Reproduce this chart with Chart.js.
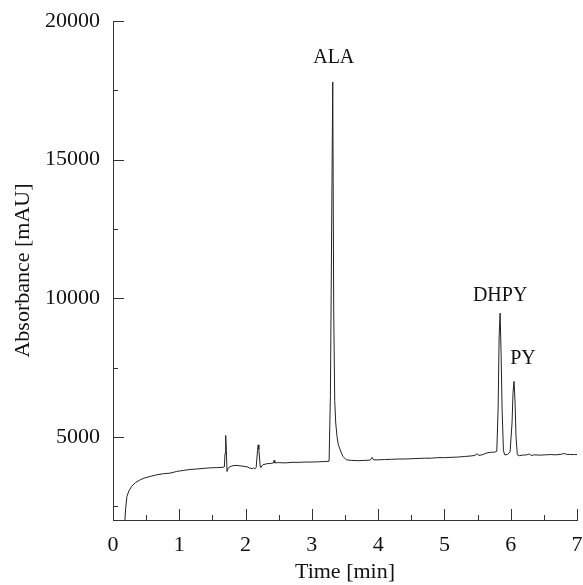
<!DOCTYPE html>
<html lang="en">
<head>
    <meta charset="UTF-8">
    <title>Chromatogram</title>
    <script src="https://cdn.jsdelivr.net/npm/chart.js"></script>
    <style>
        html, body { margin: 0; padding: 0; background: #fff; }
        #chart { display: block; }
    </style>
</head>
<body>
    <canvas id="chart" width="583" height="585"></canvas>

    <script>
        // Trace (time in min, absorbance in mAU)
        const times = [
            0.18, 0.19, 0.21, 0.24, 0.28, 0.34, 0.41, 0.48, 0.56, 0.66, 0.76, 0.86, 0.96,
            1.06, 1.16, 1.26, 1.36, 1.46, 1.56, 1.66, 1.68, 1.69, 1.70, 1.71, 1.72, 1.74,
            1.78, 1.84, 1.90, 1.96, 2.02, 2.06, 2.10, 2.12, 2.14, 2.16, 2.18, 2.19, 2.20,
            2.22, 2.23, 2.26, 2.32, 2.38, 2.42, 2.43, 2.44, 2.50, 2.60, 2.70, 2.80, 2.90,
            3.00, 3.10, 3.20, 3.26, 3.28, 3.30, 3.315, 3.33, 3.345, 3.36, 3.38, 3.40, 3.44,
            3.47, 3.52, 3.60, 3.70, 3.80, 3.88, 3.91, 3.93, 4.00, 4.10, 4.20, 4.30, 4.40,
            4.50, 4.60, 4.70, 4.80, 4.90, 5.00, 5.10, 5.20, 5.30, 5.40, 5.46, 5.49, 5.52,
            5.58, 5.64, 5.70, 5.76, 5.79, 5.81, 5.825, 5.84, 5.855, 5.87, 5.89, 5.91, 5.95,
            5.99, 6.02, 6.035, 6.05, 6.065, 6.08, 6.10, 6.13, 6.18, 6.24, 6.28, 6.31, 6.36,
            6.44, 6.52, 6.60, 6.68, 6.76, 6.80, 6.84, 6.90, 6.96, 7.00
        ];
        const absorbance = [
            2000, 2400, 2850, 3050, 3210, 3350, 3450, 3520, 3570, 3630, 3670, 3690, 3750,
            3790, 3820, 3840, 3860, 3880, 3890, 3900, 3920, 4400, 5050, 4500, 3750, 3880,
            3940, 3970, 3960, 3940, 3920, 3880, 3850, 3880, 3840, 3900, 4500, 4710, 4550,
            3950, 3900, 3990, 4030, 4040, 4060, 4150, 4060, 4070, 4060, 4080, 4080, 4090,
            4090, 4100, 4110, 4120, 6500, 13000, 17800, 9500, 6300, 5500, 5000, 4710, 4450,
            4290, 4170, 4150, 4140, 4150, 4160, 4260, 4170, 4170, 4180, 4190, 4200, 4200,
            4210, 4220, 4230, 4230, 4250, 4250, 4260, 4270, 4290, 4310, 4330, 4390, 4330,
            4360, 4420, 4440, 4450, 4480, 6000, 8600, 9460, 8000, 6000, 4500, 4350, 4360,
            4450, 5500, 6600, 7000, 6300, 5000, 4350, 4320, 4340, 4350, 4380, 4330, 4350,
            4340, 4350, 4360, 4350, 4370, 4400, 4370, 4360, 4360, 4360
        ];

        // Peak names and the time of each apex
        const peakNames = ['ALA', 'DHPY', 'PY'];
        const peakTimes = [3.315, 5.84, 6.05];

        // Axis ticks
        const xMajorTicks = [0, 1, 2, 3, 4, 5, 6, 7];
        const xMinorTicks = [0.5, 1.5, 2.5, 3.5, 4.5, 5.5, 6.5];
        const yMajorTicks = [5000, 10000, 15000, 20000];
        const yMinorTicks = [2500, 7500, 12500, 17500];

        const serif = '"Liberation Serif", "DejaVu Serif", serif';
        const ink = '#111';

        // Label offsets from each apex, in pixels
        const labelOffsets = { ALA: [1, -19], DHPY: [0, -12], PY: [9, -17] };

        const inwardTicks = {
            id: 'inwardTicks',
            afterDraw(chart) {
                const { ctx, chartArea: a, scales: { x, y } } = chart;
                ctx.save();
                ctx.strokeStyle = '#333';
                ctx.lineWidth = 1;
                ctx.beginPath();
                xMajorTicks.forEach(v => { const px = Math.round(x.getPixelForValue(v)) + 0.5; ctx.moveTo(px, a.bottom); ctx.lineTo(px, a.bottom - 11); });
                xMinorTicks.forEach(v => { const px = Math.round(x.getPixelForValue(v)) + 0.5; ctx.moveTo(px, a.bottom); ctx.lineTo(px, a.bottom - 5); });
                yMajorTicks.forEach(v => { const py = Math.round(y.getPixelForValue(v)) + 0.5; ctx.moveTo(a.left, py); ctx.lineTo(a.left + 11, py); });
                yMinorTicks.forEach(v => { const py = Math.round(y.getPixelForValue(v)) + 0.5; ctx.moveTo(a.left, py); ctx.lineTo(a.left + 5, py); });
                ctx.stroke();

                // peak names above their apex
                ctx.fillStyle = ink;
                ctx.font = '20px ' + serif;
                ctx.textAlign = 'center';
                ctx.textBaseline = 'alphabetic';
                peakNames.forEach((name, i) => {
                    const idx = times.indexOf(peakTimes[i]);
                    const px = x.getPixelForValue(peakTimes[i]);
                    const py = y.getPixelForValue(absorbance[idx]);
                    const off = labelOffsets[name];
                    ctx.fillText(name, px + off[0], py + off[1]);
                });
                ctx.restore();
            }
        };

        const ctx = document.getElementById('chart').getContext('2d');
        new Chart(ctx, {
            type: 'line',
            data: {
                datasets: [{
                    data: times.map((t, i) => ({ x: t, y: absorbance[i] })),
                    borderColor: '#222',
                    borderWidth: 1,
                    pointRadius: 0,
                    tension: 0,
                    fill: false
                }]
            },
            options: {
                responsive: false,
                animation: false,
                layout: { padding: { top: 21, right: 6, left: 0, bottom: 0 } },
                plugins: {
                    legend: { display: false },
                    tooltip: { enabled: false }
                },
                scales: {
                    x: {
                        type: 'linear',
                        min: 0,
                        max: 7,
                        afterFit: s => { s.height = 65; s.paddingLeft = 0; s.paddingRight = 0; },
                        afterBuildTicks: s => { s.ticks = xMajorTicks.map(v => ({ value: v })); },
                        grid: { display: true, drawOnChartArea: false, drawTicks: false },
                        border: { display: true, color: '#333', width: 1 },
                        ticks: { color: ink, font: { family: serif, size: 22 }, padding: 12, maxRotation: 0 },
                        title: { display: true, text: 'Time [min]', color: ink, font: { family: serif, size: 22 }, padding: { top: 0, bottom: 0 } }
                    },
                    y: {
                        min: 2000,
                        max: 20000,
                        afterFit: s => { s.width = 113; s.paddingTop = 0; s.paddingBottom = 0; },
                        afterBuildTicks: s => { s.ticks = yMajorTicks.map(v => ({ value: v })); },
                        grid: { display: true, drawOnChartArea: false, drawTicks: false },
                        border: { display: true, color: '#333', width: 1 },
                        ticks: { color: ink, font: { family: serif, size: 22 }, padding: 13, callback: v => String(v) },
                        title: { display: true, text: 'Absorbance [mAU]', color: ink, font: { family: serif, size: 22 }, padding: { top: 10, bottom: 0 } }
                    }
                }
            },
            plugins: [inwardTicks]
        });
    </script>
</body>
</html>
